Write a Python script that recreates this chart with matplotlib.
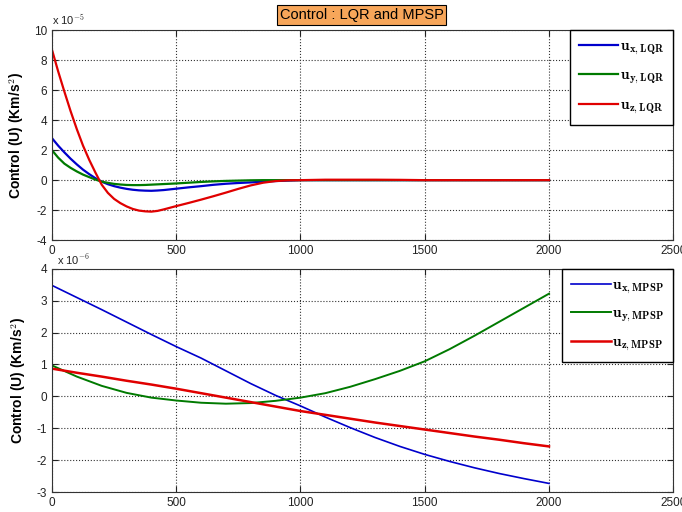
import matplotlib.pyplot as plt

plt.rcParams['font.family'] = ['Liberation Sans', 'DejaVu Sans']
plt.rcParams['mathtext.fontset'] = 'cm'
plt.rcParams['axes.unicode_minus'] = False

# =========================
# LQR control (x 1e-5 Km/s^2)
# =========================
t_lqr = [0, 25, 50, 75, 100, 125, 150, 175, 200, 225, 250, 275, 300, 325,
         350, 375, 400, 425, 450, 500, 550, 600, 650, 700, 750, 800, 850,
         900, 950, 1000, 1100, 1200, 1300, 1400, 1500, 2000]
ux_lqr = [2.8, 2.3, 1.85, 1.43, 1.05, 0.7, 0.4, 0.13, -0.1, -0.27, -0.4, -0.5,
          -0.58, -0.64, -0.68, -0.7, -0.71, -0.69, -0.66, -0.57, -0.48, -0.4,
          -0.31, -0.24, -0.19, -0.15, -0.1, -0.06, -0.03, 0.0,
          0.0, 0.0, 0.0, 0.0, 0.0, 0.0]
uy_lqr = [2.0, 1.5, 1.1, 0.82, 0.58, 0.37, 0.2, 0.04, -0.1, -0.18, -0.25, -0.29,
          -0.32, -0.33, -0.33, -0.32, -0.3, -0.28, -0.26, -0.22, -0.17, -0.12,
          -0.08, -0.05, -0.03, -0.01, 0.0, 0.0, 0.0, 0.0,
          0.0, 0.0, 0.0, 0.0, 0.0, 0.0]
uz_lqr = [8.7, 7.25, 5.9, 4.6, 3.4, 2.3, 1.35, 0.5, -0.3, -0.85, -1.25, -1.53,
          -1.75, -1.92, -2.03, -2.08, -2.1, -2.05, -1.95, -1.73, -1.52, -1.3,
          -1.07, -0.83, -0.58, -0.35, -0.17, -0.06, -0.01, 0.0,
          0.03, 0.03, 0.03, 0.02, 0.0, 0.0]

# =========================
# MPSP control (x 1e-6 Km/s^2)
# =========================
t_mpsp = [0, 100, 200, 300, 400, 500, 600, 700, 800, 900, 1000,
          1100, 1200, 1300, 1400, 1500, 1600, 1700, 1800, 1900, 2000]
ux_mpsp = [3.48, 3.1, 2.72, 2.33, 1.94, 1.56, 1.2, 0.8, 0.4, 0.03, -0.3,
           -0.65, -0.98, -1.29, -1.57, -1.82, -2.04, -2.24, -2.42, -2.58, -2.73]
uy_mpsp = [0.97, 0.62, 0.33, 0.11, -0.04, -0.13, -0.2, -0.23, -0.21, -0.14, -0.04,
           0.1, 0.3, 0.54, 0.8, 1.1, 1.48, 1.9, 2.34, 2.78, 3.22]
uz_mpsp = [0.87, 0.74, 0.62, 0.49, 0.37, 0.24, 0.1, -0.04, -0.18, -0.32, -0.46,
           -0.58, -0.7, -0.82, -0.93, -1.04, -1.15, -1.26, -1.36, -1.47, -1.57]

lqr_labels = [r'$\mathbf{u}_{\mathbf{x},\mathbf{LQR}}$',
              r'$\mathbf{u}_{\mathbf{y},\mathbf{LQR}}$',
              r'$\mathbf{u}_{\mathbf{z},\mathbf{LQR}}$']
mpsp_labels = [r'$\mathbf{u}_{\mathbf{x},\mathbf{MPSP}}$',
               r'$\mathbf{u}_{\mathbf{y},\mathbf{MPSP}}$',
               r'$\mathbf{u}_{\mathbf{z},\mathbf{MPSP}}$']
colors = ['#0000cc', '#007a00', '#e00000']

fig = plt.figure(figsize=(6.82, 5.12), dpi=100)
ax1 = fig.add_axes([0.0762, 0.531, 0.911, 0.41])
ax2 = fig.add_axes([0.0762, 0.039, 0.911, 0.436])


def style(ax, yticks):
    ax.set_xlim(0, 2500)
    ax.set_xticks([0, 500, 1000, 1500, 2000, 2500])
    ax.set_ylim(yticks[0], yticks[-1])
    ax.set_yticks(yticks)
    ax.grid(True, linestyle=':', color='#333333', linewidth=0.8)
    ax.tick_params(direction='in', top=True, right=True, labelsize=8.5,
                   colors='#222222', length=4)
    for s in ax.spines.values():
        s.set_color('#333333')
    ax.set_ylabel('Control (U) (Km/s$^2$)', fontsize=10, fontweight='bold',
                  labelpad=6)


# top: LQR
for y, c, lab in zip([ux_lqr, uy_lqr, uz_lqr], colors, lqr_labels):
    ax1.plot(t_lqr, y, color=c, linewidth=1.6, label=lab)
style(ax1, list(range(-4, 11, 2)))
ax1.text(0.0, 1.015, r'x 10$^{-5}$', transform=ax1.transAxes, fontsize=8,
         color='#222222', va='bottom')
ax1.legend(loc='upper right', borderaxespad=0, fancybox=False,
           edgecolor='black', framealpha=1, fontsize=11, labelspacing=0.75,
           handlelength=2.6, handletextpad=0.1, borderpad=0.6)

# bottom: MPSP
for y, c, lab, lw in zip([ux_mpsp, uy_mpsp, uz_mpsp], colors, mpsp_labels,
                         [1.2, 1.4, 1.8]):
    ax2.plot(t_mpsp, y, color=c, linewidth=lw, label=lab)
style(ax2, list(range(-3, 5)))
ax2.text(0.008, 1.01, r'x 10$^{-6}$', transform=ax2.transAxes, fontsize=8,
         color='#222222', va='bottom')
ax2.legend(loc='upper right', borderaxespad=0, fancybox=False,
           edgecolor='black', framealpha=1, fontsize=11, labelspacing=0.7,
           handlelength=2.6, handletextpad=0.1, borderpad=0.6)

fig.text(0.53, 0.971, 'Control : LQR and MPSP', ha='center', va='center',
         fontsize=10.5,
         bbox=dict(boxstyle='square,pad=0.2', facecolor='#f7a65a',
                   edgecolor='black', linewidth=0.8))

fig.savefig('out.png', dpi=100)
